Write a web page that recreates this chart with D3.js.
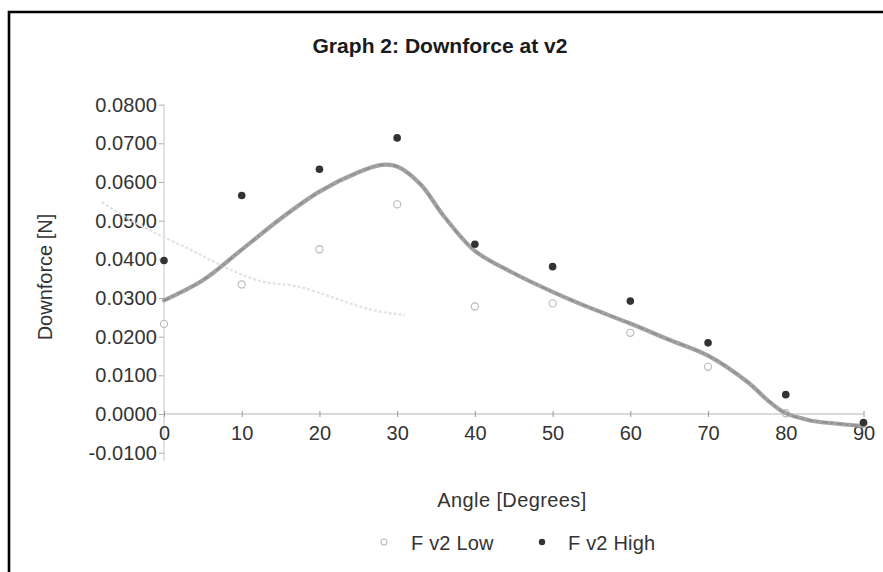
<!DOCTYPE html>
<html>
<head>
<meta charset="utf-8">
<script src="https://cdn.jsdelivr.net/npm/d3@7"></script>
<style>
  html, body { margin: 0; padding: 0; background: #fff; }
  svg { display: block; }
  text { font-family: "Liberation Sans", Arial, sans-serif; fill: #333; }
</style>
</head>
<body>
<svg id="chart" width="883" height="572"></svg>
<script>
// ---- data ----
const angles = [0, 10, 20, 30, 40, 50, 60, 70, 80, 90];
const fLow  = [0.0233, 0.0335, 0.0426, 0.0542, 0.0278, 0.0286, 0.0210, 0.0122, 0.0002, -0.0025];
const fHigh = [0.0397, 0.0565, 0.0633, 0.0714, 0.0439, 0.0381, 0.0292, 0.0184, 0.0050, -0.0022];

// smooth trend line
const trendAngles = [0, 5, 10, 15, 20, 25, 28, 30, 33, 36, 40, 45, 50, 55, 60, 65, 70, 75, 78, 80, 83, 86, 90];
const trendValues = [0.0294, 0.0346, 0.0425, 0.0505, 0.0575, 0.0625, 0.0644, 0.0640, 0.0594, 0.0512, 0.0422, 0.0364, 0.0316, 0.0273, 0.0234, 0.0192, 0.0151, 0.0084, 0.0030, 0.0002, -0.0016, -0.0024, -0.0031];

// faint ghost line visible in the background
const ghostAngles = [-8, -5, 0, 4, 6, 12, 18, 20, 28, 31];
const ghostValues = [0.0548, 0.0510, 0.0457, 0.0419, 0.0398, 0.0346, 0.0326, 0.0313, 0.0264, 0.0256];

const xTicks = [0, 10, 20, 30, 40, 50, 60, 70, 80, 90];
const yTicks = [-0.01, 0, 0.01, 0.02, 0.03, 0.04, 0.05, 0.06, 0.07, 0.08];

const title = "Graph 2: Downforce at v2";
const xLabel = "Angle [Degrees]";
const yLabel = "Downforce [N]";
const seriesNames = ["F v2 Low", "F v2 High"];

// ---- layout ----
const svg = d3.select("#chart");
const x = d3.scaleLinear().domain([0, 90]).range([164, 863.5]);
const y = d3.scaleLinear().domain([0, 0.07]).range([414, 143.3]);

// frame
svg.append("path")
  .attr("d", "M9,572 L9,12 L883,12")
  .attr("fill", "none").attr("stroke", "#000").attr("stroke-width", 2.6);

// title
svg.append("text")
  .attr("x", 440).attr("y", 53)
  .attr("text-anchor", "middle")
  .attr("font-weight", "bold").attr("font-size", 20)
  .attr("textLength", 255).attr("lengthAdjust", "spacingAndGlyphs")
  .style("fill", "#1a1a1a")
  .text(title);

// y axis
const fmt4 = d3.format(".4f");
const yAxis = d3.axisLeft(y).tickValues(yTicks).tickSize(5).tickPadding(2)
  .tickFormat(d => fmt4(d).replace("\u2212", "-"));
const gy = svg.append("g").attr("transform", `translate(${x(0)},0)`).call(yAxis);
gy.select(".domain").remove();
gy.selectAll(".tick line").attr("stroke", "#aaa");
gy.selectAll(".tick text")
  .attr("font-size", 20).attr("font-family", "Liberation Sans, Arial, sans-serif")
  .style("fill", "#333").attr("letter-spacing", "0.1px");
gy.append("line")
  .attr("x1", 0).attr("x2", 0)
  .attr("y1", y(0.08)).attr("y2", y(-0.01) + 8)
  .attr("stroke", "#c4c4c4").attr("stroke-width", 1);

// x axis at zero
const xAxis = d3.axisBottom(x).tickValues(xTicks).tickSize(3).tickPadding(9)
  .tickFormat(d3.format("d"));
const gx = svg.append("g").attr("transform", `translate(0,${y(0)})`).call(xAxis);
gx.select(".domain").attr("stroke", "#b5b5b5").attr("d", `M${x(0)},0H${x(90)}`);
gx.selectAll(".tick line").attr("stroke", "#999").attr("y1", -3);
gx.selectAll(".tick text")
  .attr("font-size", 20).attr("font-family", "Liberation Sans, Arial, sans-serif")
  .style("fill", "#333");

// axis titles
svg.append("text")
  .attr("x", 512).attr("y", 507)
  .attr("text-anchor", "middle").attr("font-size", 20)
  .attr("letter-spacing", "0.4px")
  .text(xLabel);
svg.append("text")
  .attr("transform", "translate(52,277) rotate(-90)")
  .attr("text-anchor", "middle").attr("font-size", 20)
  .text(yLabel);

// ghost line
const ghostData = ghostAngles.map((a, i) => [a, ghostValues[i]]);
svg.append("path")
  .datum(ghostData)
  .attr("fill", "none").attr("stroke", "#e2e2e2").attr("stroke-width", 2.2)
  .attr("stroke-dasharray", "3,2")
  .attr("d", d3.line().x(d => x(d[0])).y(d => y(d[1])).curve(d3.curveMonotoneX));

// low series (hollow)
svg.append("g").selectAll("circle")
  .data(angles.map((a, i) => [a, fLow[i]]))
  .join("circle")
  .attr("cx", d => x(d[0])).attr("cy", d => y(d[1])).attr("r", 3.6)
  .attr("fill", "#fff").attr("fill-opacity", 0.6)
  .attr("stroke", "#b8b8b8").attr("stroke-width", 1.1);

// trend line
const trendData = trendAngles.map((a, i) => [a, trendValues[i]]);
const trendLine = d3.line().x(d => x(d[0])).y(d => y(d[1])).curve(d3.curveCatmullRom.alpha(0.5));
svg.append("path")
  .datum(trendData)
  .attr("fill", "none").attr("stroke", "#a3a3a3").attr("stroke-width", 4.2)
  .attr("stroke-linecap", "round")
  .attr("d", trendLine);
svg.append("path")
  .datum(trendData)
  .attr("fill", "none").attr("stroke", "#8c8c8c").attr("stroke-width", 1.4)
  .attr("stroke-dasharray", "6,3,2,4")
  .attr("d", trendLine);

// high series (filled)
svg.append("g").selectAll("circle")
  .data(angles.map((a, i) => [a, fHigh[i]]))
  .join("circle")
  .attr("cx", d => x(d[0])).attr("cy", d => y(d[1])).attr("r", 3.8)
  .attr("fill", "#333");

// legend
const legend = svg.append("g");
legend.append("circle").attr("cx", 384).attr("cy", 542).attr("r", 3)
  .attr("fill", "#fff").attr("stroke", "#bbb").attr("stroke-width", 1.1);
legend.append("text").attr("x", 411).attr("y", 550).attr("font-size", 20)
  .attr("letter-spacing", "0.2px").text(seriesNames[0]);
legend.append("circle").attr("cx", 542).attr("cy", 542).attr("r", 3.2)
  .attr("fill", "#333");
legend.append("text").attr("x", 568).attr("y", 550).attr("font-size", 20)
  .attr("letter-spacing", "0.2px").text(seriesNames[1]);
</script>
</body>
</html>
